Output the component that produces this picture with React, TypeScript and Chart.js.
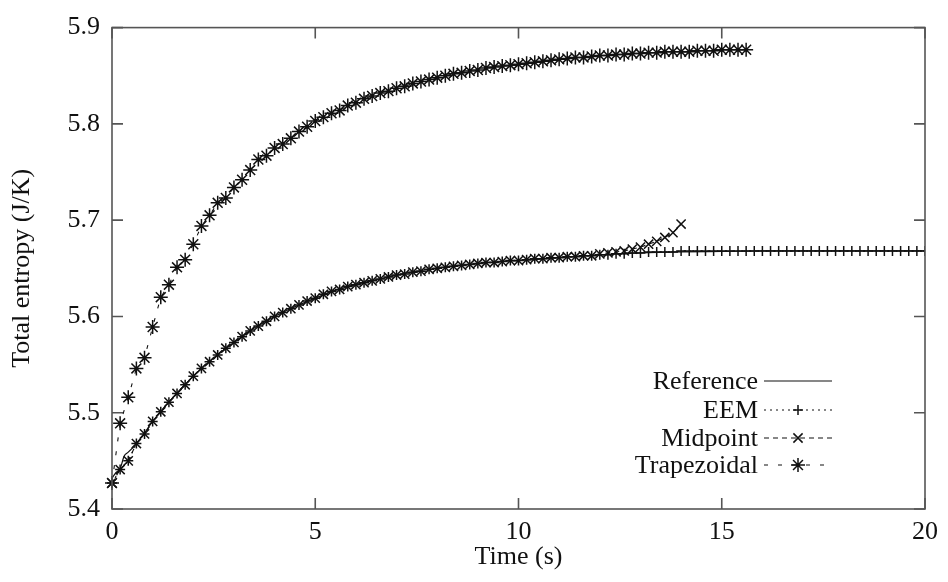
import React, { useEffect, useRef } from "react";
import { Chart, registerables } from "chart.js";

Chart.register(...registerables);

// ---- data ----
const TIME = [
  0, 0.2, 0.4, 0.6, 0.8, 1.0, 1.2, 1.4, 1.6, 1.8,
  2.0, 2.2, 2.4, 2.6, 2.8, 3.0, 3.2, 3.4, 3.6, 3.8,
  4.0, 4.2, 4.4, 4.6, 4.8, 5.0, 5.2, 5.4, 5.6, 5.8,
  6.0, 6.2, 6.4, 6.6, 6.8, 7.0, 7.2, 7.4, 7.6, 7.8,
  8.0, 8.2, 8.4, 8.6, 8.8, 9.0, 9.2, 9.4, 9.6, 9.8,
  10.0, 10.2, 10.4, 10.6, 10.8, 11.0, 11.2, 11.4, 11.6, 11.8,
  12.0, 12.2, 12.4, 12.6, 12.8, 13.0, 13.2, 13.4, 13.6, 13.8,
  14.0, 14.2, 14.4, 14.6, 14.8, 15.0, 15.2, 15.4, 15.6, 15.8,
  16.0, 16.2, 16.4, 16.6, 16.8, 17.0, 17.2, 17.4, 17.6, 17.8,
  18.0, 18.2, 18.4, 18.6, 18.8, 19.0, 19.2, 19.4, 19.6, 19.8,
  20.0,
];

const REF_T = [0, 0.1, 0.2, 0.3, 0.4, 0.6, 0.8, 1, 1.5, 2, 2.5, 3, 3.5, 4, 4.5, 5, 5.5, 6, 6.5, 7, 7.5, 8, 8.5, 9, 9.5, 10, 11, 12, 13, 14, 15, 16, 18, 20];
const REF_V = [5.432, 5.438, 5.442, 5.455, 5.459, 5.468, 5.479, 5.491, 5.516, 5.538, 5.557, 5.573, 5.588, 5.6, 5.61, 5.619, 5.627, 5.633, 5.638, 5.643, 5.647, 5.65, 5.653, 5.655, 5.657, 5.658, 5.661, 5.664, 5.666, 5.667, 5.6675, 5.668, 5.668, 5.668];

const EEM_V = [
  5.427, 5.441, 5.45, 5.468, 5.478, 5.491, 5.501, 5.511, 5.52, 5.529,
  5.538, 5.546, 5.553, 5.56, 5.567, 5.573, 5.579, 5.585, 5.59, 5.595,
  5.6, 5.604, 5.608, 5.612, 5.616, 5.619, 5.623, 5.626, 5.628, 5.631,
  5.633, 5.635, 5.637, 5.639, 5.641, 5.643, 5.644, 5.646, 5.647, 5.649,
  5.65, 5.651, 5.652, 5.653, 5.654, 5.655, 5.656, 5.656, 5.657, 5.658,
  5.658, 5.659, 5.66, 5.66, 5.661, 5.661, 5.662, 5.662, 5.663, 5.663,
  5.664, 5.664, 5.665, 5.665, 5.666, 5.666, 5.667, 5.667, 5.667, 5.667,
  5.668, 5.668, 5.668, 5.668, 5.668, 5.668, 5.668, 5.668, 5.668, 5.668,
  5.668, 5.668, 5.668, 5.668, 5.668, 5.668, 5.668, 5.668, 5.668, 5.668,
  5.668, 5.668, 5.668, 5.668, 5.668, 5.668, 5.668, 5.668, 5.668, 5.668,
  5.668,
];

const MID_V = [
  5.427, 5.441, 5.45, 5.468, 5.478, 5.491, 5.501, 5.511, 5.52, 5.529,
  5.538, 5.546, 5.553, 5.56, 5.567, 5.573, 5.579, 5.585, 5.59, 5.595,
  5.6, 5.604, 5.608, 5.612, 5.616, 5.619, 5.623, 5.626, 5.628, 5.631,
  5.633, 5.635, 5.637, 5.639, 5.641, 5.643, 5.644, 5.646, 5.647, 5.649,
  5.65, 5.651, 5.652, 5.653, 5.654, 5.655, 5.656, 5.656, 5.657, 5.658,
  5.658, 5.659, 5.66, 5.66, 5.661, 5.661, 5.662, 5.662, 5.663, 5.663,
  5.665, 5.666, 5.667, 5.668, 5.67, 5.672, 5.675, 5.678, 5.682, 5.687,
  5.696,
];

const TRAP_V = [
  5.427, 5.489, 5.516, 5.546, 5.557, 5.589, 5.62, 5.633, 5.651, 5.659,
  5.675, 5.694, 5.705, 5.718, 5.723, 5.734, 5.742, 5.752, 5.763, 5.767,
  5.775, 5.779, 5.785, 5.792, 5.797, 5.803, 5.807, 5.811, 5.814, 5.819,
  5.822, 5.826, 5.829, 5.832, 5.834, 5.837, 5.839, 5.842, 5.844, 5.846,
  5.848, 5.85, 5.852, 5.853, 5.855, 5.856, 5.858, 5.859, 5.86, 5.861,
  5.862, 5.863, 5.864, 5.865, 5.866, 5.867, 5.868, 5.869, 5.869, 5.87,
  5.871, 5.871, 5.872, 5.872, 5.873, 5.873, 5.874, 5.874, 5.875, 5.875,
  5.875, 5.875, 5.876, 5.876, 5.876, 5.877, 5.877, 5.877, 5.877,
];

const SERIES_LABELS = ["Reference", "EEM", "Midpoint", "Trapezoidal"];
const X_TICK_STEP = 5;
const Y_TICK_STEP = 0.1;

// ---- style ----
const FONT_FAMILY = "'Liberation Serif', 'DejaVu Serif', serif";
const FONT_SIZE = 26;
const INK = "#111";
const FRAME = "#555";
const TICK_LEN = 11;

const pairs = (xs: number[], ys: number[]) => ys.map((y, i) => ({ x: xs[i], y }));

function drawMarker(ctx: CanvasRenderingContext2D, style: string, x: number, y: number, r: number) {
  ctx.beginPath();
  if (style === "cross" || style === "star") {
    ctx.moveTo(x - r, y);
    ctx.lineTo(x + r, y);
    ctx.moveTo(x, y - r);
    ctx.lineTo(x, y + r);
  }
  if (style === "crossRot" || style === "star") {
    const d = r * Math.SQRT1_2;
    ctx.moveTo(x - d, y - d);
    ctx.lineTo(x + d, y + d);
    ctx.moveTo(x - d, y + d);
    ctx.lineTo(x + d, y - d);
  }
  ctx.stroke();
}

const framePlugin = {
  id: "gnuframe",
  afterDraw(chart: any) {
    const { ctx, chartArea: a, scales } = chart;
    ctx.save();
    ctx.strokeStyle = FRAME;
    ctx.lineWidth = 1.6;
    ctx.setLineDash([]);
    ctx.strokeRect(a.left, a.top, a.right - a.left, a.bottom - a.top);
    ctx.beginPath();
    const xs = scales.x;
    const ys = scales.y;
    xs.ticks.forEach((t: any) => {
      const px = xs.getPixelForValue(t.value);
      ctx.moveTo(px, a.bottom);
      ctx.lineTo(px, a.bottom - TICK_LEN);
      ctx.moveTo(px, a.top);
      ctx.lineTo(px, a.top + TICK_LEN);
    });
    ys.ticks.forEach((t: any) => {
      const py = ys.getPixelForValue(t.value);
      ctx.moveTo(a.left, py);
      ctx.lineTo(a.left + TICK_LEN, py);
      ctx.moveTo(a.right, py);
      ctx.lineTo(a.right - TICK_LEN, py);
    });
    ctx.stroke();

    // legend (inside plot, bottom right)
    const textRight = 758;
    const lineStart = 764;
    const lineEnd = 832;
    const rowY = [381, 410, 438, 465];
    ctx.font = `${FONT_SIZE}px ${FONT_FAMILY}`;
    ctx.textAlign = "right";
    ctx.textBaseline = "middle";
    chart.data.datasets.forEach((ds: any, i: number) => {
      const y = rowY[i];
      ctx.fillStyle = INK;
      ctx.fillText(ds.label, textRight, y + 1);
      ctx.strokeStyle = INK;
      ctx.lineWidth = 1.2;
      ctx.setLineDash(ds.borderDash || []);
      ctx.beginPath();
      ctx.moveTo(lineStart, y);
      ctx.lineTo(lineEnd, y);
      ctx.stroke();
      ctx.setLineDash([]);
      if (ds.pointRadius > 0) {
        ctx.lineWidth = ds.pointBorderWidth || 1.3;
        drawMarker(ctx, ds.pointStyle, (lineStart + lineEnd) / 2, y, ds.pointRadius);
      }
    });
    ctx.restore();
  },
};

export default function App() {
  const ref = useRef<HTMLCanvasElement | null>(null);

  useEffect(() => {
    if (!ref.current) return;
    const tickFont = { family: FONT_FAMILY, size: FONT_SIZE };
    const titleFont = { family: FONT_FAMILY, size: FONT_SIZE, lineHeight: 1 };
    const clip = { left: 12, top: 12, right: 0, bottom: 12 };
    const chart = new Chart(ref.current, {
      type: "line",
      data: {
        datasets: [
          {
            label: SERIES_LABELS[0],
            data: pairs(REF_T, REF_V),
            borderColor: INK,
            borderWidth: 1.2,
            pointRadius: 0,
            cubicInterpolationMode: "monotone",
            clip,
          },
          {
            label: SERIES_LABELS[1],
            data: pairs(TIME, EEM_V),
            borderColor: INK,
            borderWidth: 1.1,
            borderDash: [2, 4],
            pointStyle: "cross",
            pointRadius: 5,
            pointBorderWidth: 1.5,
            pointBorderColor: INK,
            clip,
          },
          {
            label: SERIES_LABELS[2],
            data: pairs(TIME, MID_V),
            borderColor: INK,
            borderWidth: 1.1,
            borderDash: [5, 4],
            pointStyle: "crossRot",
            pointRadius: 6.5,
            pointBorderWidth: 1.5,
            pointBorderColor: INK,
            clip,
          },
          {
            label: SERIES_LABELS[3],
            data: pairs(TIME, TRAP_V),
            borderColor: INK,
            borderWidth: 1.1,
            borderDash: [4, 10],
            pointStyle: "star",
            pointRadius: 7,
            pointBorderWidth: 1.5,
            pointBorderColor: INK,
            clip,
          },
        ],
      },
      options: {
        responsive: false,
        animation: false,
        devicePixelRatio: 1,
        layout: { padding: { left: 0, top: 19, right: 23, bottom: 0 } },
        plugins: { legend: { display: false }, tooltip: { enabled: false } },
        elements: { line: { tension: 0 } },
        scales: {
          x: {
            type: "linear",
            min: 0,
            max: 20,
            grid: { display: false, drawTicks: false },
            border: { display: false },
            ticks: { stepSize: X_TICK_STEP, font: tickFont, color: INK, padding: 8, maxRotation: 0 },
            title: { display: true, text: "Time (s)", font: titleFont, color: INK, padding: { top: 0, bottom: 12 } },
            afterFit: (s: any) => { s.height = 73; },
          },
          y: {
            type: "linear",
            min: 5.4,
            max: 5.9,
            grid: { display: false, drawTicks: false },
            border: { display: false },
            ticks: {
              stepSize: Y_TICK_STEP,
              font: tickFont,
              color: INK,
              padding: 12,
              callback: (v: any) => Number(v).toFixed(1),
            },
            title: { display: true, text: "Total entropy (J/K)", font: titleFont, color: INK, padding: { top: 9, bottom: 0 } },
            afterFit: (s: any) => { s.width = 112; },
          },
        },
      } as any,
      plugins: [framePlugin],
    });
    return () => chart.destroy();
  }, []);

  return (
    <div style={{ position: "absolute", left: 0, top: 0, width: 948, height: 582, background: "#fff" }}>
      <canvas ref={ref} width={948} height={582} style={{ display: "block", width: 948, height: 582 }} />
    </div>
  );
}
